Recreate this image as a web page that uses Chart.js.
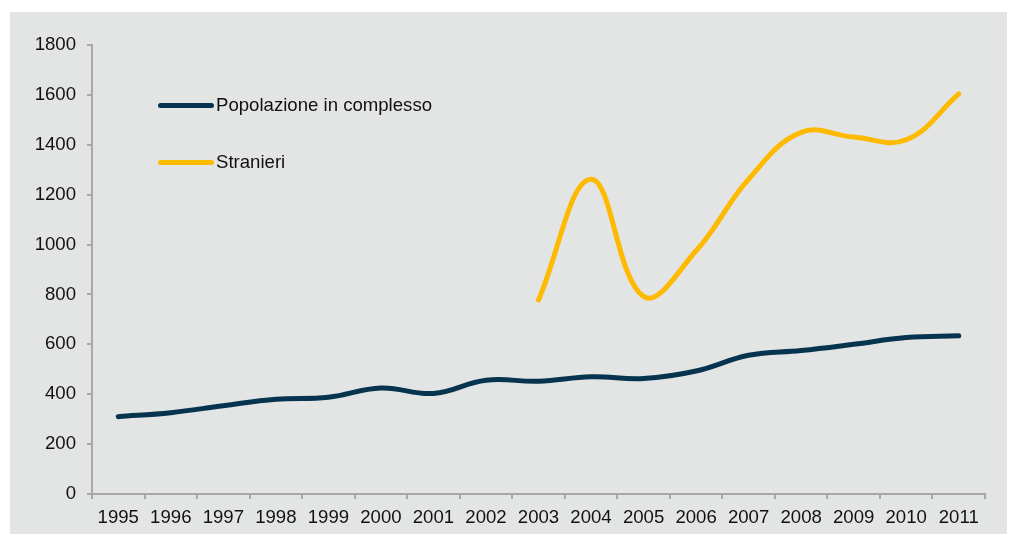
<!DOCTYPE html>
<html>
<head>
<meta charset="utf-8">
<script src="https://cdn.jsdelivr.net/npm/chart.js@4/dist/chart.umd.min.js"></script>
<style>
  html, body { margin: 0; padding: 0; background: #ffffff; }
  #box {
    position: absolute; left: 10px; top: 12px; width: 997px; height: 522px;
    background: #e3e4e4;
  }
  #box canvas { position: absolute; left: 0; top: 0; }
  .leg { position: absolute; left: 148px; height: 20px; font: 18.6px "Liberation Sans", Arial, sans-serif; color: #111; }
  .leg .ln { position: absolute; left: 0; top: 8px; width: 56px; height: 5px; border-radius: 3px; }
  .leg .tx { position: absolute; left: 58px; top: -1px; white-space: nowrap; }
</style>
</head>
<body>
<div id="box">
  <canvas id="myChart" width="997" height="522"></canvas>
  <div class="leg" style="top:83px"><div class="ln" style="background:#06344f"></div><div class="tx">Popolazione in complesso</div></div>
  <div class="leg" style="top:140px"><div class="ln" style="background:#fdba00"></div><div class="tx">Stranieri</div></div>
</div>
<script>
// years on the x axis
const years = ['1995', '1996', '1997', '1998', '1999', '2000', '2001', '2002', '2003',
    '2004', '2005', '2006', '2007', '2008', '2009', '2010', '2011'];

// series values
const popolazione = [310, 326, 354, 380, 388, 425, 403, 456, 452, 470, 463, 493, 556, 575, 600, 627, 634];
const stranieri = [null, null, null, null, null, null, null, null, 778, 1262, 792, 975, 1262, 1450, 1431, 1420, 1604];

const axisGrey = '#a8a8a8';
const tickFont = { family: '"Liberation Sans", Arial, sans-serif', size: 18.6 };

const ctx = document.getElementById('myChart').getContext('2d');
const myChart = new Chart(ctx, {
    type: 'line',
    data: {
        labels: years,
        datasets: [
            {
                label: 'Popolazione in complesso',
                data: popolazione,
                borderColor: '#06344f',
                borderWidth: 5,
                borderCapStyle: 'round',
                tension: 0.4,
                pointRadius: 0,
                fill: false
            },
            {
                label: 'Stranieri',
                data: stranieri,
                borderColor: '#fdba00',
                borderWidth: 5,
                borderCapStyle: 'round',
                tension: 0.4,
                pointRadius: 0,
                fill: false
            }
        ]
    },
    options: {
        responsive: false,
        animation: false,
        layout: { padding: { top: 33, right: 22, left: 0, bottom: 0 } },
        plugins: {
            legend: { display: false },
            tooltip: { enabled: false }
        },
        scales: {
            x: {
                type: 'category',
                offset: true,
                grid: {
                    offset: true,
                    drawOnChartArea: false,
                    color: axisGrey,
                    lineWidth: 2,
                    tickLength: 5
                },
                border: { color: axisGrey, width: 2 },
                ticks: { color: '#111', font: tickFont, padding: 8, maxRotation: 0, autoSkip: false },
                afterFit: scale => { scale.height = 40; }
            },
            y: {
                min: 0,
                max: 1800,
                grid: {
                    drawOnChartArea: false,
                    color: axisGrey,
                    lineWidth: 2,
                    tickLength: 5
                },
                border: { color: axisGrey, width: 2 },
                ticks: {
                    stepSize: 200, color: '#111', font: tickFont, padding: 11,
                    callback: v => String(v)
                },
                afterFit: scale => { scale.width = 82; }
            }
        }
    }
});
</script>
</body>
</html>
